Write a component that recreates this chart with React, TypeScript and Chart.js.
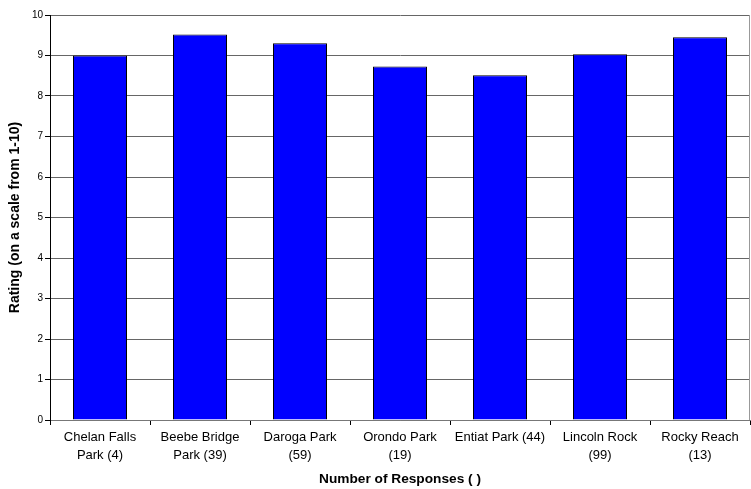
import React, { useEffect, useRef } from "react";
import { Chart, registerables } from "chart.js";

Chart.register(...registerables);

const categories: (string | string[])[] = [
  ["Chelan Falls", "Park (4)"],
  ["Beebe Bridge", "Park (39)"],
  ["Daroga Park", "(59)"],
  ["Orondo Park", "(19)"],
  "Entiat Park (44)",
  ["Lincoln Rock", "(99)"],
  ["Rocky Reach", "(13)"],
];
const ratings = [9.0, 9.52, 9.3, 8.73, 8.51, 9.03, 9.45];
const yTitle = "Rating (on a scale from 1-10)";
const xTitle = "Number of Responses ( )";
const yMin = 0;
const yMax = 10;
const yStep = 1;

const FONT = "'Liberation Sans', Arial, sans-serif";

const rightBorder = {
  id: "rightBorder",
  afterDraw(chart: any) {
    const { ctx, chartArea } = chart;
    ctx.save();
    ctx.strokeStyle = "#999";
    ctx.lineWidth = 1;
    ctx.beginPath();
    const x = Math.round(chartArea.right) - 0.5;
    ctx.moveTo(x, chartArea.top);
    ctx.lineTo(x, chartArea.bottom);
    ctx.stroke();
    ctx.restore();
  },
};

export default function App() {
  const ref = useRef<HTMLCanvasElement>(null);
  useEffect(() => {
    document.body.style.margin = "0";
    const chart = new Chart(ref.current!, {
      type: "bar",
      data: {
        labels: categories,
        datasets: [
          {
            data: ratings,
            backgroundColor: "#0000FF",
            borderColor: "#000000",
            borderWidth: 1,
            barPercentage: 0.54,
            categoryPercentage: 1,
          },
        ],
      },
      plugins: [rightBorder],
      options: {
        responsive: false,
        animation: false,
        layout: { padding: { top: 15, right: 1, left: 0, bottom: 0 } },
        plugins: { legend: { display: false }, tooltip: { enabled: false } },
        scales: {
          x: {
            afterFit: (s: any) => {
              s.height = 69;
            },
            grid: {
              drawOnChartArea: false,
              drawTicks: true,
              tickLength: 5,
              tickColor: "#000",
              offset: true,
            },
            border: { color: "#777", width: 1 },
            ticks: {
              color: "#000",
              font: { family: FONT, size: 13, lineHeight: 1.35 },
              padding: 4,
              maxRotation: 0,
              autoSkip: false,
            },
            title: {
              display: true,
              text: xTitle,
              color: "#000",
              font: { family: FONT, size: 13.7, weight: "bold" },
              padding: { top: 0, bottom: 2 },
            },
          },
          y: {
            min: yMin,
            max: yMax,
            afterFit: (s: any) => {
              s.width = 50;
            },
            grid: {
              color: "#666",
              tickColor: "#000",
              tickLength: 5,
              lineWidth: 1,
            },
            border: { color: "#000", width: 1 },
            ticks: {
              stepSize: yStep,
              color: "#000",
              font: { family: FONT, size: 10 },
              padding: 2,
            },
            title: {
              display: true,
              text: yTitle,
              color: "#000",
              font: { family: FONT, size: 14, weight: "bold" },
              padding: { top: 7, bottom: 0 },
            },
          },
        },
      },
    } as any);
    return () => chart.destroy();
  }, []);
  return (
    <canvas
      ref={ref}
      width={751}
      height={489}
      style={{ display: "block", width: 751, height: 489 }}
    />
  );
}
